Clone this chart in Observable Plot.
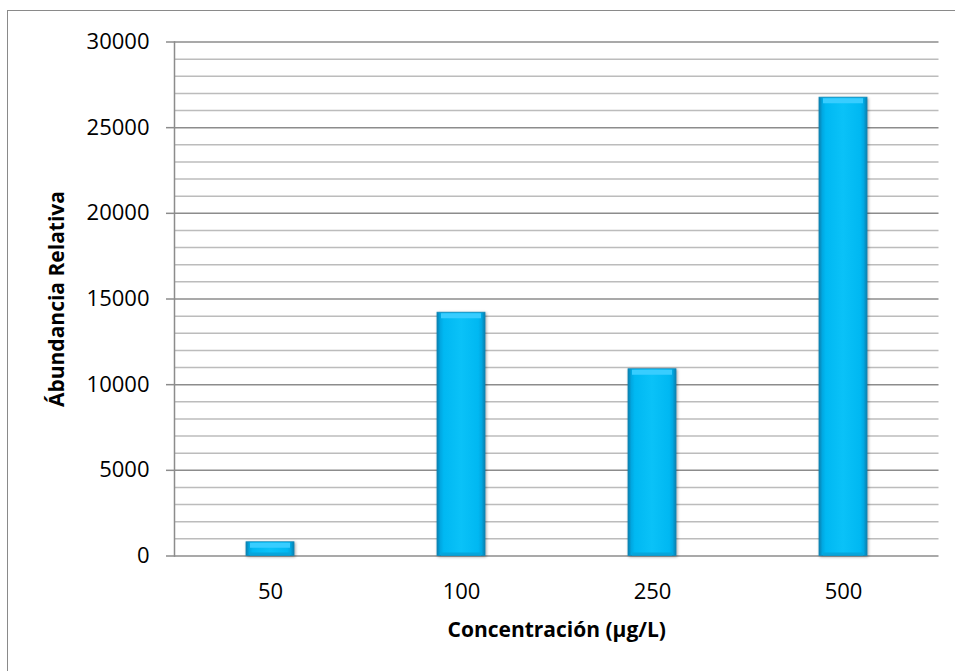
<!DOCTYPE html>
<html>
<head>
<meta charset="utf-8">
<script src="https://cdn.jsdelivr.net/npm/d3@7"></script>
<script src="https://cdn.jsdelivr.net/npm/@observablehq/plot@0.6"></script>
<style>
  html, body { margin: 0; padding: 0; background: #fff; overflow: hidden; width: 955px; height: 671px; }
  #wrap { position: relative; width: 955px; height: 671px; }
  #frame { position: absolute; left: 7px; top: 10px; width: 1000px; height: 1000px; border: 1.5px solid #8a8a8a; box-sizing: border-box; }
  #chart { position: absolute; left: 0; top: 0; }
  g[aria-label="bar"] { filter: drop-shadow(1.5px 1.5px 1.5px rgba(0,0,0,0.35)); }
</style>
</head>
<body>
<div id="wrap"><div id="frame"></div><div id="chart"></div></div>
<script>
const categories = ["50", "100", "250", "500"];
const values = [800, 14200, 10900, 26750];
const yMajorTicks = [0, 5000, 10000, 15000, 20000, 25000, 30000];
const yMinorTicks = [1000, 2000, 3000, 4000, 6000, 7000, 8000, 9000, 11000, 12000, 13000, 14000,
  16000, 17000, 18000, 19000, 21000, 22000, 23000, 24000, 26000, 27000, 28000, 29000];
const xTitle = "Concentración (µg/L)";
const yTitle = "Ábundancia Relativa";

const data = categories.map((c, i) => ({cat: c, value: values[i]}));

const chart = Plot.plot({
  width: 955,
  height: 671,
  marginLeft: 174,
  marginRight: 16.5,
  marginTop: 41.5,
  marginBottom: 115.5,
  style: {fontFamily: "'Open Sans', sans-serif", fontSize: "22px", color: "#000", background: "transparent", overflow: "visible"},
  x: {domain: categories, paddingInner: 0.75, paddingOuter: 0.375, label: null},
  y: {domain: [0, 30000], label: null},
  marks: [
    Plot.ruleY(yMinorTicks, {stroke: "#bcbcbc", strokeWidth: 1.5}),
    Plot.ruleY(yMajorTicks, {stroke: "#8c8c8c", strokeWidth: 1.5}),
    Plot.frame({anchor: "left", stroke: "#8c8c8c", strokeWidth: 1.5}),
    Plot.axisY({ticks: yMajorTicks, tickSize: 8, tickPadding: 17, tickFormat: d => String(d), stroke: "#8c8c8c", strokeWidth: 1.5, strokeOpacity: 1, label: null}),
    Plot.axisX({tickSize: 0, tickPadding: 27, label: null}),
    Plot.barY(data, {x: "cat", y: "value", fill: "url(#barGrad)", stroke: "#1088b8", strokeWidth: 0.8}),
    Plot.tickY(data, {x: "cat", y: "value", stroke: "#38cdff", strokeWidth: 5, dy: 3, insetLeft: 4, insetRight: 4}),
    Plot.tickY(data, {x: "cat", y: 0, stroke: "#06a6dc", strokeWidth: 3, dy: -2, insetLeft: 4, insetRight: 4}),
    Plot.text([yTitle], {frameAnchor: "left", textAnchor: "middle", dx: -117, rotate: -90, fontWeight: "bold", fontSize: 21}),
    Plot.text([xTitle], {frameAnchor: "bottom", dy: 81, dx: 0, fontWeight: "bold", fontSize: 21})
  ]
});

const defs = d3.select(chart).insert("defs", ":first-child");
const g = defs.append("linearGradient").attr("id", "barGrad").attr("x1", "0").attr("x2", "1").attr("y1", "0").attr("y2", "0");
[["0%", "#0a7fae"], ["7%", "#00a8e2"], ["14%", "#00b8f2"], ["50%", "#0ac2f8"], ["86%", "#00b8f2"], ["93%", "#00a8e2"], ["100%", "#0a7fae"]]
  .forEach(([o, c]) => g.append("stop").attr("offset", o).attr("stop-color", c));

document.getElementById("chart").appendChild(chart);
</script>
</body>
</html>
